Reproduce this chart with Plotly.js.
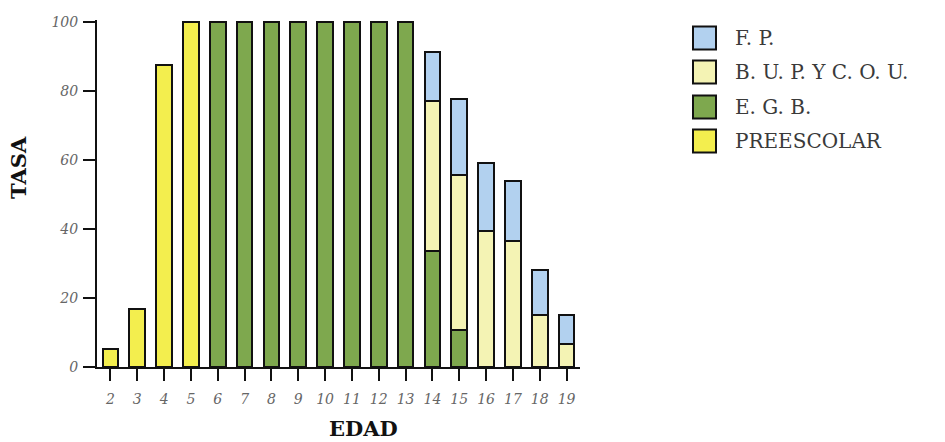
<!DOCTYPE html>
<html>
<head>
<meta charset="utf-8">
<script src="https://cdn.plot.ly/plotly-3.0.1.min.js"></script>
<style>
  html, body { margin: 0; padding: 0; background: #ffffff; }
  #chart { width: 945px; height: 442px; }
</style>
</head>
<body>
<div id="chart"></div>
<script>
// Ages (EDAD)
const ages = [2, 3, 4, 5, 6, 7, 8, 9, 10, 11, 12, 13, 14, 15, 16, 17, 18, 19];
// Series values (TASA), stacked bottom to top
const preescolar = [5.2, 16.7, 87.5, 100, null, null, null, null, null, null, null, null, null, null, null, null, null, null];
const egb        = [null, null, null, null, 100, 100, 100, 100, 100, 100, 100, 100, 33.5, 10.6, null, null, null, null];
const bup        = [null, null, null, null, null, null, null, null, null, null, null, null, 43.5, 45.0, 39.5, 36.6, 15.2, 6.8];
const fp         = [null, null, null, null, null, null, null, null, null, null, null, null, 14.4, 22.0, 19.7, 17.3, 13.0, 8.2];

const seriesNames = ["PREESCOLAR", "E. G. B.", "B. U. P. Y C. O. U.", "F. P."];
const seriesColors = ["#f3ee4e", "#7ea84e", "#f4f3b4", "#b2d1ef"];
const yTicks = [0, 20, 40, 60, 80, 100];

const seriesData = [preescolar, egb, bup, fp];
const traces = seriesData.map((vals, i) => ({
  type: "bar",
  x: ages,
  y: vals,
  name: seriesNames[i],
  width: 0.58,
  marker: { color: seriesColors[i], line: { color: "#111111", width: 2 } },
  showlegend: false,
  hoverinfo: "x+y+name"
}));

// plot area in pixels: x 97..580, y 20..367
const L = 97, R = 580, T = 20, B = 367;
const px = v => (v - L) / (R - L);
const py = v => (B - v) / (B - T);

const shapes = [];
const annotations = [];
// Legend (top to bottom: F.P., B.U.P., E.G.B., PREESCOLAR)
const legendOrder = [3, 2, 1, 0];
const rowY = [38, 72, 107, 141];
legendOrder.forEach((si, k) => {
  const cy = rowY[k];
  shapes.push({
    type: "rect", xref: "paper", yref: "paper",
    x0: px(693), x1: px(716), y0: py(cy + 11.5), y1: py(cy - 11.5),
    fillcolor: seriesColors[si], line: { color: "#111111", width: 2 }
  });
  annotations.push({
    xref: "paper", yref: "paper", x: px(733), y: py(cy),
    xanchor: "left", yanchor: "middle", showarrow: false,
    text: seriesNames[si],
    font: { family: "DejaVu Serif", size: 20, color: "#3a3a3a" }
  });
});
// Axis titles
annotations.push({
  xref: "paper", yref: "paper", x: px(18), y: py(168),
  xanchor: "center", yanchor: "middle", showarrow: false, textangle: -90,
  text: "TASA", font: { family: "DejaVu Serif", size: 21, color: "#111111", weight: "bold" }
});
annotations.push({
  xref: "paper", yref: "paper", x: px(363), y: py(428),
  xanchor: "center", yanchor: "middle", showarrow: false,
  text: "EDAD", font: { family: "DejaVu Serif", size: 21, color: "#111111", weight: "bold" }
});

const tickFont = { family: "DejaVu Serif", size: 14, color: "#666666", style: "italic" };

const layout = {
  width: 945, height: 442,
  margin: { l: L, r: 945 - R, t: T, b: 442 - B, pad: 0 },
  paper_bgcolor: "#ffffff", plot_bgcolor: "#ffffff",
  barmode: "stack",
  showlegend: false,
  xaxis: {
    type: "linear", range: [1.5, 19.5],
    tickvals: ages, ticktext: ages.map(String),
    showgrid: false, zeroline: false,
    showline: true, linecolor: "#111111", linewidth: 2,
    ticks: "outside", ticklen: 12, tickwidth: 2, tickcolor: "#111111",
    tickfont: tickFont, ticklabelstandoff: 6
  },
  yaxis: {
    range: [0, 100.6],
    tickvals: yTicks, ticktext: yTicks.map(String),
    showgrid: false, zeroline: false,
    showline: true, linecolor: "#111111", linewidth: 2,
    ticks: "outside", ticklen: 12, tickwidth: 2, tickcolor: "#111111",
    tickfont: tickFont, ticklabelstandoff: 2
  },
  shapes: shapes,
  annotations: annotations
};

Plotly.newPlot("chart", traces, layout, { displayModeBar: false, staticPlot: true });
</script>
</body>
</html>
